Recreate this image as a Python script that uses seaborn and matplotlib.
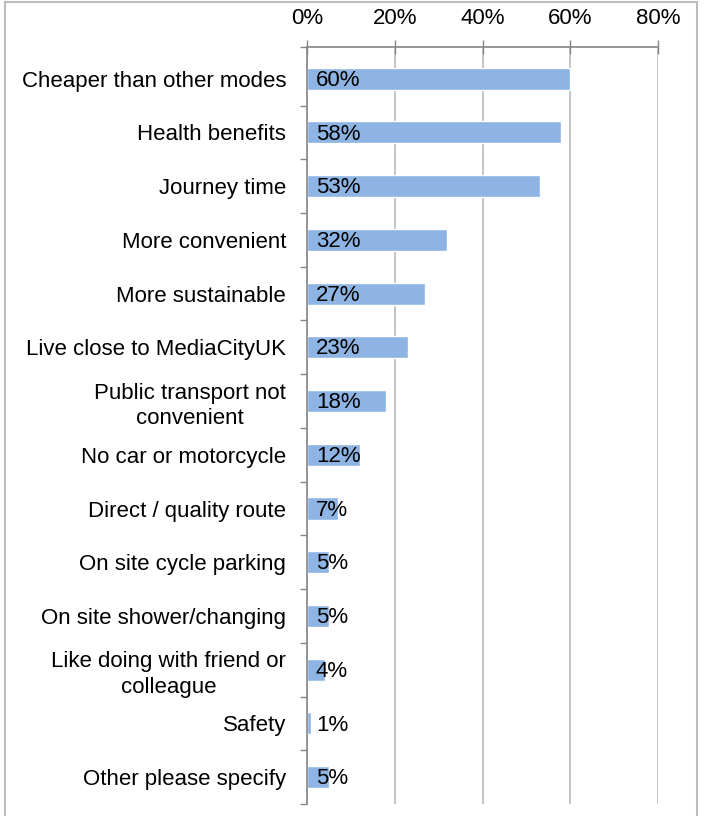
import matplotlib
matplotlib.use("Agg")
import matplotlib.pyplot as plt
from matplotlib.patches import Rectangle
from matplotlib.ticker import FixedLocator, PercentFormatter
import seaborn as sns
import pandas as pd

reasons = [
    "Cheaper than other modes",
    "Health benefits",
    "Journey time",
    "More convenient",
    "More sustainable",
    "Live close to MediaCityUK",
    "Public transport not\nconvenient",
    "No car or motorcycle",
    "Direct / quality route",
    "On site cycle parking",
    "On site shower/changing",
    "Like doing with friend or\ncolleague",
    "Safety",
    "Other please specify",
]
shares = [60, 58, 53, 32, 27, 23, 18, 12, 7, 5, 5, 4, 1, 5]
x_ticks = [0, 20, 40, 60, 80]

df = pd.DataFrame({"reason": reasons, "share": shares})

sns.set_theme(style="white")
plt.rcParams["font.family"] = ["Liberation Sans", "DejaVu Sans"]

FS = 16
TOP = -0.59

fig = plt.figure(figsize=(7.04, 8.16), dpi=100)
ax = fig.add_axes([307 / 704, 1 - 804 / 816, 351 / 704, (804 - 47) / 816])

sns.barplot(data=df, y="reason", x="share", orient="h", color="#8DB4E2",
            saturation=1, width=0.41, ax=ax)

# percentage labels sitting at the start of each bar
for i, v in enumerate(shares):
    ax.text(2.0, i + 0.03, f"{v}%", ha="left", va="center", fontsize=FS,
            color="black")

ax.set_xlim(0, 80)
ax.set_ylim(13.5, TOP)
ax.set_xlabel("")
ax.set_ylabel("")

ax.xaxis.set_major_locator(FixedLocator(x_ticks))
ax.xaxis.set_major_formatter(PercentFormatter(decimals=0))
ax.xaxis.tick_top()
ax.tick_params(axis="x", which="major", top=True, bottom=False, direction="inout",
               length=10, width=1, color="#868686", labelsize=FS, pad=8,
               labelcolor="black")
ax.grid(axis="x", color="#BFBFBF", linewidth=1.3)
ax.grid(axis="y", visible=False)

ax.set_yticks(range(len(reasons)))
ax.set_yticklabels(reasons, fontsize=FS, color="black", multialignment="center",
                   linespacing=1.3)
ax.tick_params(axis="y", which="major", left=False, length=0, pad=15)
ax.yaxis.set_minor_locator(FixedLocator([TOP] + [i + 0.5 for i in range(len(reasons))]))
ax.tick_params(axis="y", which="minor", left=True, direction="out", length=5,
               width=1, color="#868686")

for side in ["right", "bottom"]:
    ax.spines[side].set_visible(False)
for side in ["top", "left"]:
    ax.spines[side].set_color("#868686")
    ax.spines[side].set_linewidth(1.2)

# chart frame
fig.patches.append(Rectangle((5 / 704, -0.02), (697 - 5) / 704, 1.02 - 1.5 / 816,
                             transform=fig.transFigure, fill=False,
                             edgecolor="#BCBCBC", linewidth=1.5))

fig.savefig("out.png", dpi=100, facecolor="white")
